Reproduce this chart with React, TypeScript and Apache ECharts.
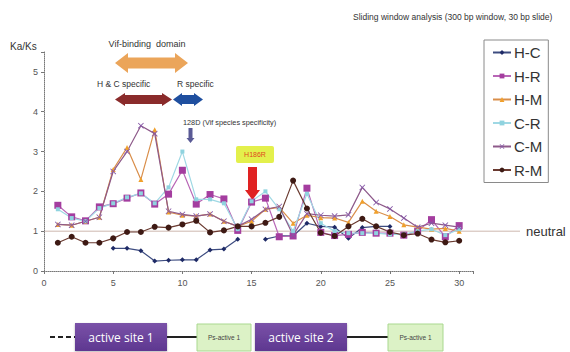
import React, { useEffect, useRef } from "react";
import * as echarts from "echarts";

const positions = [1, 2, 3, 4, 5, 6, 7, 8, 9, 10, 11, 12, 13, 14, 15, 16, 17, 18, 19, 20, 21, 22, 23, 24, 25, 26, 27, 28, 29, 30];
const seriesNames = ["H-C", "H-R", "H-M", "C-R", "C-M", "R-M"];
const hc = [null, null, null, null, 0.57, 0.57, 0.51, 0.25, 0.27, 0.28, 0.28, 0.53, 0.55, 0.8, null, 0.8, 0.88, 0.88, 1.2, 1.12, 1.1, 0.82, 1.09, 1.12, 1.12, null, null, null, null, null];
const hr = [1.65, 1.36, 1.26, 1.61, 1.69, 1.83, 1.96, 1.68, 1.93, 2.53, 1.68, 1.92, 1.81, 1.02, 1.73, 1.83, 0.86, 0.88, 2.08, 0.97, 0.89, 0.92, 0.97, 0.95, 0.95, 0.9, 1.0, 1.29, 0.86, 1.14];
const hm = [1.17, 1.15, 1.25, 1.35, 2.55, 3.1, 2.3, 3.55, 1.48, 1.4, 1.38, 1.43, 1.25, 1.12, 1.25, 1.55, 1.6, 1.2, 1.4, 1.34, 1.33, 1.22, 1.75, 1.5, 1.37, 1.16, 1.1, 1.05, 1.07, 1.0];
const cr = [1.55, 1.33, 1.25, 1.58, 1.7, 1.85, 1.95, 1.7, 2.1, 3.0, 1.8, 1.8, 1.7, 1.05, 1.75, 2.0, 1.55, 1.0, 1.94, 1.2, 1.0, 0.95, 0.95, 0.95, 0.92, 0.92, 1.0, 1.05, 0.9, 1.05];
const cm = [1.17, 1.15, 1.25, 1.35, 2.5, 3.0, 3.65, 3.45, 1.5, 1.42, 1.38, 1.43, 1.25, 1.12, 1.3, 1.55, 1.62, 0.9, 1.44, 1.4, 1.38, 1.41, 2.1, 1.72, 1.56, 1.33, 1.1, 1.2, 1.15, 1.1];
const rm = [0.71, 0.86, 0.71, 0.71, 0.82, 0.98, 0.98, 1.11, 1.09, 1.17, 1.26, 0.97, 1.02, 1.12, 1.12, 1.21, 1.36, 2.27, 1.57, 0.96, 0.88, 1.12, 1.31, 1.12, 0.98, 0.9, 0.94, 0.79, 0.72, 0.76];
const yTicks = [0, 1, 2, 3, 4, 5];
const xTicks = [0, 5, 10, 15, 20, 25, 30];
const neutralValue = 1;

const xSymbol = "path://M0,1 L1,0 L5,4 L9,0 L10,1 L6,5 L10,9 L9,10 L5,6 L1,10 L0,9 L4,5 Z";

const styles: Record<string, any> = {
  "H-C": { color: "#1e2a66", line: "#3d4c80", symbol: "diamond", size: 5 },
  "H-R": { color: "#a43d9f", line: "#b866b6", symbol: "rect", size: 7 },
  "H-M": { color: "#f0a02c", line: "#d98e4a", symbol: "triangle", size: 5 },
  "C-R": { color: "#8fd3df", line: "#9fd8e4", symbol: "rect", size: 4 },
  "C-M": { color: "#8557a6", line: "#8e5a8a", symbol: xSymbol, size: 6 },
  "R-M": { color: "#3e1a14", line: "#6a3a30", symbol: "circle", size: 6 },
};

const valuesByName: Record<string, (number | null)[]> = {
  "H-C": hc, "H-R": hr, "H-M": hm, "C-R": cr, "C-M": cm, "R-M": rm,
};

function doubleArrow(x1: number, x2: number, y: number, t: number, H: number, h: number, color: string) {
  return {
    type: "polygon",
    shape: {
      points: [
        [x1, y], [x1 + h, y - H], [x1 + h, y - t], [x2 - h, y - t], [x2 - h, y - H],
        [x2, y], [x2 - h, y + H], [x2 - h, y + t], [x1 + h, y + t], [x1 + h, y + H],
      ],
    },
    style: { fill: color },
  };
}

function downArrow(x: number, y1: number, y2: number, sw: number, hw: number, hl: number, color: string) {
  return {
    type: "polygon",
    shape: {
      points: [
        [x - sw / 2, y1], [x + sw / 2, y1], [x + sw / 2, y2 - hl], [x + hw / 2, y2 - hl],
        [x, y2], [x - hw / 2, y2 - hl], [x - sw / 2, y2 - hl],
      ],
    },
    style: { fill: color },
  };
}

const FONT = "Liberation Sans, Arial, sans-serif";

function staticGraphics(): any[] {
  const purpleFill = {
    type: "linear", x: 0, y: 0, x2: 0, y2: 1,
    colorStops: [{ offset: 0, color: "#7a52a8" }, { offset: 1, color: "#5e3790" }],
  };
  return [
    { type: "text", left: 353, top: 12, style: { text: "Sliding window analysis (300 bp window, 30 bp slide)", fontSize: 8.5, fill: "#333", fontFamily: FONT } },
    { type: "text", x: 10, y: 41, style: { text: "Ka/Ks", fontSize: 10, fill: "#333", fontFamily: FONT } },
    { type: "text", x: 147, y: 44, style: { text: "Vif-binding  domain", fontSize: 9, fill: "#333", fontFamily: FONT, align: "center", verticalAlign: "middle" } },
    doubleArrow(115, 188, 63, 5.5, 10, 13, "#eba55a"),
    { type: "text", x: 97, y: 84, style: { text: "H & C specific", fontSize: 8.5, fill: "#333", fontFamily: FONT, verticalAlign: "middle" } },
    { type: "text", x: 177, y: 84, style: { text: "R specific", fontSize: 8.5, fill: "#333", fontFamily: FONT, verticalAlign: "middle" } },
    doubleArrow(115, 172, 99.5, 4.5, 6.5, 10, "#8a2b2b"),
    doubleArrow(173, 203, 99.5, 4.5, 6.5, 9, "#1f4f9f"),
    { type: "text", x: 183, y: 122, style: { text: "128D (Vif species specificity)", fontSize: 7.3, fill: "#333", fontFamily: FONT, verticalAlign: "middle" } },
    downArrow(190.5, 128, 143, 4, 8, 5, "#5a5a95"),
    { type: "rect", shape: { x: 236, y: 146, width: 38, height: 17, r: 2 }, style: { fill: "#e3f04c" } },
    { type: "text", x: 255, y: 154.5, style: { text: "H186R", fontSize: 7, fill: "#e04a1c", fontFamily: FONT, align: "center", verticalAlign: "middle" } },
    downArrow(252.5, 167, 200, 9, 15, 10, "#e02222"),
    // domain diagram
    { type: "line", shape: { x1: 50, y1: 337, x2: 75, y2: 337 }, style: { stroke: "#222", lineWidth: 2, lineDash: [5, 3] } },
    { type: "line", shape: { x1: 167, y1: 337, x2: 197, y2: 337 }, style: { stroke: "#222", lineWidth: 2 } },
    { type: "line", shape: { x1: 347, y1: 337, x2: 388, y2: 337 }, style: { stroke: "#222", lineWidth: 2 } },
    { type: "rect", shape: { x: 75, y: 323, width: 92, height: 28 }, style: { fill: purpleFill, shadowBlur: 2, shadowColor: "rgba(0,0,0,0.3)", shadowOffsetY: 1 } },
    { type: "text", x: 121, y: 337, style: { text: "active site 1", fontSize: 12, fill: "#fff", fontFamily: "Open Sans, sans-serif", align: "center", verticalAlign: "middle" } },
    { type: "rect", shape: { x: 197, y: 324, width: 54, height: 27 }, style: { fill: "#dcf2c6", stroke: "#a9d88f", lineWidth: 1 } },
    { type: "text", x: 224, y: 337.5, style: { text: "Ps-active 1", fontSize: 6.5, fill: "#444", fontFamily: FONT, align: "center", verticalAlign: "middle" } },
    { type: "rect", shape: { x: 255, y: 323, width: 92, height: 28 }, style: { fill: purpleFill, shadowBlur: 2, shadowColor: "rgba(0,0,0,0.3)", shadowOffsetY: 1 } },
    { type: "text", x: 301, y: 337, style: { text: "active site 2", fontSize: 12, fill: "#fff", fontFamily: "Open Sans, sans-serif", align: "center", verticalAlign: "middle" } },
    { type: "rect", shape: { x: 388, y: 324, width: 55, height: 27 }, style: { fill: "#dcf2c6", stroke: "#a9d88f", lineWidth: 1 } },
    { type: "text", x: 415.5, y: 337.5, style: { text: "Ps-active 1", fontSize: 6.5, fill: "#444", fontFamily: FONT, align: "center", verticalAlign: "middle" } },
  ];
}

export default function App() {
  const ref = useRef<HTMLDivElement>(null);
  useEffect(() => {
    if (!ref.current) return;
    const chart = echarts.init(ref.current, null, { renderer: "svg" });
    const series = seriesNames.map((name) => {
      const s = styles[name];
      return {
        name,
        type: "line",
        data: positions.map((x, i) => {
          const v = valuesByName[name][i];
          return [x, v === null ? "-" : v];
        }),
        connectNulls: false,
        symbol: s.symbol,
        symbolSize: s.size,
        itemStyle: { color: s.color },
        lineStyle: { color: s.line, width: 1.2 },
      };
    });
    const option: any = {
      animation: false,
      backgroundColor: "#fff",
      textStyle: { fontFamily: FONT },
      grid: { left: 44, right: 97, top: 52, bottom: 81, containLabel: false },
      legend: {
        orient: "vertical",
        left: 484,
        top: 40,
        width: 65,
        padding: [5, 6, 5, 8],
        itemGap: 8.5,
        itemWidth: 18,
        itemHeight: 6,
        borderColor: "#8a8a8a",
        borderWidth: 1,
        textStyle: { fontSize: 15, color: "#333", fontFamily: FONT, padding: [0, 0, 0, -2] },
        data: seriesNames,
      },
      xAxis: {
        type: "value",
        min: 0,
        max: 31,
        interval: 5,
        axisLine: { show: true, lineStyle: { color: "#777", type: "dotted", width: 1 } },
        axisTick: { show: true, length: 3, lineStyle: { color: "#777" } },
        axisLabel: {
          fontSize: 9, color: "#555", margin: 7,
          formatter: (v: number) => (xTicks.includes(v) ? String(v) : ""),
        },
        splitLine: { show: false },
      },
      yAxis: {
        type: "value",
        min: 0,
        max: 5.5,
        interval: 1,
        axisLine: { show: true, lineStyle: { color: "#777", type: "dotted", width: 1 } },
        axisTick: { show: true, length: 3, lineStyle: { color: "#777" } },
        axisLabel: {
          fontSize: 9, color: "#555", margin: 6,
          formatter: (v: number) => (yTicks.includes(v) ? String(v) : ""),
        },
        splitLine: { show: false },
      },
      series,
      graphic: staticGraphics(),
    };
    chart.setOption(option);
    const yN = chart.convertToPixel({ yAxisIndex: 0 }, neutralValue) as number;
    const x0 = chart.convertToPixel({ xAxisIndex: 0 }, 0) as number;
    chart.setOption({
      graphic: [
        ...staticGraphics(),
        { type: "line", z: -1, shape: { x1: x0, y1: yN, x2: 520, y2: yN }, style: { stroke: "#cdb7ae", lineWidth: 1 } },
        { type: "text", x: 526, y: yN, style: { text: "neutral", fontSize: 13, fill: "#333", fontFamily: FONT, verticalAlign: "middle" } },
      ],
    });
    return () => chart.dispose();
  }, []);
  return (
    <div
      ref={ref}
      style={{ position: "fixed", left: 0, top: 0, width: 570, height: 352, background: "#fff" }}
    />
  );
}
